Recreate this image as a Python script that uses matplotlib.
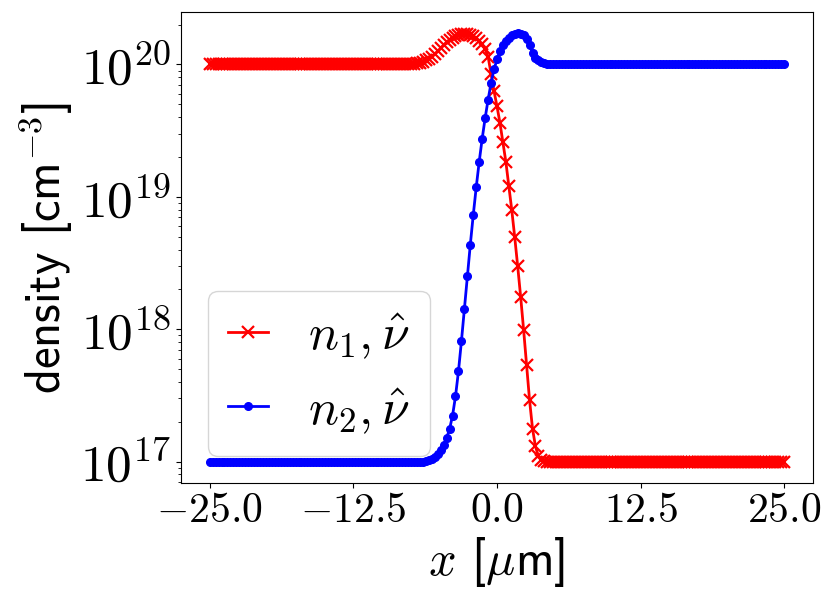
import numpy as np
import matplotlib
matplotlib.use("Agg")
import matplotlib.pyplot as plt
from matplotlib.ticker import NullFormatter

plt.rcParams['mathtext.fontset'] = 'cm'
plt.rcParams['font.family'] = ['cmss10', 'DejaVu Sans']

# grid of positions in micrometres (uniform grid, 195 points)
x_um = np.linspace(-25.0, 25.0, 195)

# log10 of density [cm^-3], species 1 (red)
n1_log = [
    20.0, 20.0, 20.0, 20.0, 20.0, 20.0, 20.0, 20.0, 20.0, 20.0, 20.0,
    20.0, 20.0, 20.0, 20.0, 20.0, 20.0, 20.0, 20.0, 20.0, 20.0, 20.0,
    20.0, 20.0, 20.0, 20.0, 20.0, 20.0, 20.0, 20.0, 20.0, 20.0, 20.0,
    20.0, 20.0, 20.0, 20.0, 20.0, 20.0, 20.0, 20.0, 20.0, 20.0, 20.0,
    20.0, 20.0, 20.0, 20.0, 20.0, 20.0, 20.0, 20.0, 20.0, 20.0, 20.0,
    20.0, 20.0, 20.0, 20.0, 20.0, 20.0, 20.0, 20.0, 20.0, 20.0, 20.0,
    20.001, 20.002, 20.003, 20.005, 20.008, 20.013, 20.02, 20.03, 20.045, 20.06, 20.078, 20.10,
    20.122, 20.148, 20.168, 20.187, 20.202, 20.215, 20.224, 20.23, 20.232, 20.23, 20.224, 20.214,
    20.2, 20.18, 20.152, 20.115, 20.06, 19.93, 19.80, 19.685, 19.56, 19.415, 19.265, 19.085,
    18.9, 18.695, 18.475, 18.245, 17.995, 17.73, 17.465, 17.25, 17.115, 17.04, 17.01, 17.003,
    17.0, 17.0, 17.0, 17.0, 17.0, 17.0, 17.0, 17.0, 17.0,
    17.0, 17.0, 17.0, 17.0, 17.0, 17.0, 17.0, 17.0, 17.0,
    17.0, 17.0, 17.0, 17.0, 17.0, 17.0, 17.0, 17.0, 17.0,
    17.0, 17.0, 17.0, 17.0, 17.0, 17.0, 17.0, 17.0, 17.0,
    17.0, 17.0, 17.0, 17.0, 17.0, 17.0, 17.0, 17.0, 17.0,
    17.0, 17.0, 17.0, 17.0, 17.0, 17.0, 17.0, 17.0, 17.0,
    17.0, 17.0, 17.0, 17.0, 17.0, 17.0, 17.0, 17.0, 17.0,
    17.0, 17.0, 17.0, 17.0, 17.0, 17.0, 17.0, 17.0, 17.0,
    17.0, 17.0, 17.0, 17.0, 17.0, 17.0, 17.0, 17.0, 17.0,
]

# log10 of density [cm^-3], species 2 (blue)
n2_log = [
    17.0, 17.0, 17.0, 17.0, 17.0, 17.0, 17.0, 17.0, 17.0,
    17.0, 17.0, 17.0, 17.0, 17.0, 17.0, 17.0, 17.0, 17.0,
    17.0, 17.0, 17.0, 17.0, 17.0, 17.0, 17.0, 17.0, 17.0,
    17.0, 17.0, 17.0, 17.0, 17.0, 17.0, 17.0, 17.0, 17.0,
    17.0, 17.0, 17.0, 17.0, 17.0, 17.0, 17.0, 17.0, 17.0,
    17.0, 17.0, 17.0, 17.0, 17.0, 17.0, 17.0, 17.0, 17.0,
    17.0, 17.0, 17.0, 17.0, 17.0, 17.0, 17.0, 17.0, 17.0,
    17.0, 17.0, 17.0, 17.0, 17.0, 17.0, 17.0, 17.0, 17.0,
    17.0,
    17.005, 17.01, 17.02, 17.035, 17.055, 17.085, 17.128, 17.178, 17.246, 17.347, 17.493,
    17.682, 17.909, 18.153, 18.40, 18.639, 18.864, 19.073, 19.265, 19.438, 19.594, 19.733,
    19.859, 19.962, 20.038, 20.10, 20.144, 20.176, 20.20, 20.219, 20.229, 20.234, 20.232,
    20.219, 20.189, 20.146, 20.088, 20.05, 20.03, 20.017, 20.01, 20.005, 20.002,
    20.0, 20.0, 20.0, 20.0, 20.0, 20.0, 20.0, 20.0, 20.0, 20.0, 20.0,
    20.0, 20.0, 20.0, 20.0, 20.0, 20.0, 20.0, 20.0, 20.0, 20.0, 20.0,
    20.0, 20.0, 20.0, 20.0, 20.0, 20.0, 20.0, 20.0, 20.0, 20.0, 20.0,
    20.0, 20.0, 20.0, 20.0, 20.0, 20.0, 20.0, 20.0, 20.0, 20.0, 20.0,
    20.0, 20.0, 20.0, 20.0, 20.0, 20.0, 20.0, 20.0, 20.0, 20.0, 20.0,
    20.0, 20.0, 20.0, 20.0, 20.0, 20.0, 20.0, 20.0, 20.0, 20.0, 20.0,
    20.0, 20.0, 20.0, 20.0, 20.0, 20.0, 20.0, 20.0, 20.0, 20.0, 20.0,
    20.0, 20.0,
]

assert len(n1_log) == len(x_um), len(n1_log)
assert len(n2_log) == len(x_um), len(n2_log)

series_labels = [r'$n_1, \hat{\nu}$', r'$n_2, \hat{\nu}$']
xtick_vals = [-25.0, -12.5, 0.0, 12.5, 25.0]
xtick_labels = [r'$-25.0$', r'$-12.5$', r'$0.0$', r'$12.5$', r'$25.0$']
ytick_vals = [1e17, 1e18, 1e19, 1e20]
ytick_labels = [r'$10^{17}$', r'$10^{18}$', r'$10^{19}$', r'$10^{20}$']

fig = plt.figure(figsize=(8.3, 6.04), dpi=100)
ax = fig.add_axes([0.218, 0.2003, 0.7615, 0.7797])

ax.plot(x_um, 10.0 ** np.array(n1_log), color='red', marker='x', ms=8, mew=1.6,
        lw=2, label=series_labels[0])
ax.plot(x_um, 10.0 ** np.array(n2_log), color='blue', marker='.', ms=11,
        lw=2, label=series_labels[1])
ax.set_yscale('log')

ax.set_xticks(xtick_vals, xtick_labels, fontsize=30)
ax.set_yticks(ytick_vals, ytick_labels, fontsize=37)
ax.yaxis.set_minor_formatter(NullFormatter())

ax.set_xlabel(r'$x$ [$\mu$m]', fontsize=35)
ax.set_ylabel(r'density [cm$^{-3}$]', fontsize=35)

ax.legend(loc='lower left', fontsize=36, handlelength=0.8, handletextpad=0.8,
          borderaxespad=0.55)

fig.savefig('out.png', dpi=100)
